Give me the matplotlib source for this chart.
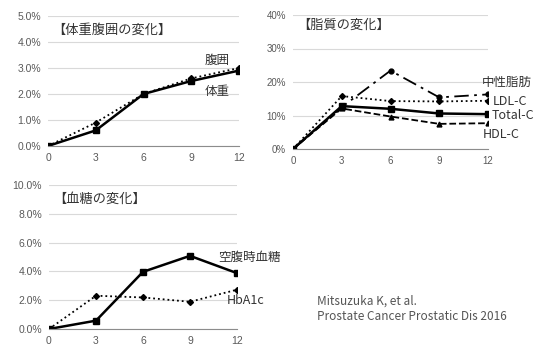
import matplotlib.pyplot as plt
from matplotlib.ticker import FuncFormatter

plt.rcParams['font.family'] = ['Noto Sans CJK JP', 'DejaVu Sans']

months = [0, 3, 6, 9, 12]

# weight / waist (% change)
weight = [0.0, 0.6, 2.0, 2.5, 2.9]
waist = [0.0, 0.9, 2.0, 2.6, 3.0]

# lipids (% change)
tg = [0.0, 12.5, 23.4, 15.4, 16.3]
ldl = [0.0, 15.8, 14.3, 14.2, 14.4]
total_c = [0.0, 12.8, 12.0, 10.6, 10.4]
hdl = [0.0, 12.1, 9.7, 7.5, 7.7]

# glucose (% change)
fpg = [0.0, 0.58, 3.97, 5.08, 3.88]
hba1c = [0.0, 2.31, 2.19, 1.89, 2.73]

W, H = 539, 344
fig = plt.figure(figsize=(W / 100, H / 100), dpi=100)

tick_col = '#595959'
txt_col = '#333333'


def make_ax(x0, x1, ytop, ybot):
    ax = fig.add_axes([x0 / W, 1 - ybot / H, (x1 - x0) / W, (ybot - ytop) / H])
    for s in ['top', 'right', 'left']:
        ax.spines[s].set_visible(False)
    ax.spines['bottom'].set_color('#8c8c8c')
    ax.spines['bottom'].set_linewidth(0.8)
    ax.grid(axis='y', color='#d9d9d9', linewidth=0.8)
    ax.set_axisbelow(True)
    ax.set_xlim(0, 12)
    ax.set_xticks(months)
    ax.tick_params(length=0, labelsize=7.5, colors=tick_col, pad=5)
    return ax


def fix_labels(ax):
    for lab in ax.get_xticklabels() + ax.get_yticklabels():
        lab.set_family(['Liberation Sans', 'DejaVu Sans'])


# 体重腹囲
ax1 = make_ax(48, 239, 16, 146)
ax1.set_ylim(0, 5)
ax1.set_yticks([0, 1, 2, 3, 4, 5])
ax1.yaxis.set_major_formatter(FuncFormatter(lambda v, p: f'{v:.1f}%'))
ax1.plot(months, waist, ':', color='black', lw=1.3, marker='D', ms=3)
ax1.plot(months, weight, '-', color='black', lw=1.8, marker='s', ms=4)
fix_labels(ax1)
fig.text(52 / W, 1 - 30 / H, '【体重腹囲の変化】', fontsize=9.5, color=txt_col, va='center', ha='left')
fig.text(205 / W, 1 - 60 / H, '腹囲', fontsize=9, color=txt_col, va='center', ha='left')
fig.text(205 / W, 1 - 91 / H, '体重', fontsize=9, color=txt_col, va='center', ha='left')

# 脂質
ax2 = make_ax(293, 488, 15, 149)
ax2.set_ylim(0, 40)
ax2.set_yticks([0, 10, 20, 30, 40])
ax2.yaxis.set_major_formatter(FuncFormatter(lambda v, p: f'{v:.0f}%'))
ax2.plot(months, tg, '-.', color='black', lw=1.3, marker='o', ms=3.5, dashes=(8, 3, 1.5, 3))
ax2.plot(months, ldl, ':', color='black', lw=1.3, marker='D', ms=3)
ax2.plot(months, hdl, '--', color='black', lw=1.3, marker='^', ms=3.5)
ax2.plot(months, total_c, '-', color='black', lw=1.8, marker='s', ms=4)
ax2.tick_params(labelsize=7)
fix_labels(ax2)
fig.text(297 / W, 1 - 25 / H, '【脂質の変化】', fontsize=9.5, color=txt_col, va='center', ha='left')
fig.text(482 / W, 1 - 82 / H, '中性脂肪', fontsize=9, color=txt_col, va='center', ha='left')
fig.text(493 / W, 1 - 101 / H, 'LDL-C', fontsize=9, color=txt_col, va='center', ha='left')
fig.text(492 / W, 1 - 116 / H, 'Total-C', fontsize=9, color=txt_col, va='center', ha='left')
fig.text(483 / W, 1 - 134 / H, 'HDL-C', fontsize=9, color=txt_col, va='center', ha='left')

# 血糖
ax3 = make_ax(49, 237, 185, 329)
ax3.set_ylim(0, 10)
ax3.set_yticks([0, 2, 4, 6, 8, 10])
ax3.yaxis.set_major_formatter(FuncFormatter(lambda v, p: f'{v:.1f}%'))
ax3.plot(months, hba1c, ':', color='black', lw=1.3, marker='D', ms=3)
ax3.plot(months, fpg, '-', color='black', lw=1.8, marker='s', ms=4)
fix_labels(ax3)
fig.text(53 / W, 1 - 199 / H, '【血糖の変化】', fontsize=9.5, color=txt_col, va='center', ha='left')
fig.text(218 / W, 1 - 257 / H, '空腹時血糖', fontsize=9, color=txt_col, va='center', ha='left')
fig.text(227 / W, 1 - 301 / H, 'HbA1c', fontsize=9, color=txt_col, va='center', ha='left')

# citation
fig.text(317 / W, 1 - 301 / H, 'Mitsuzuka K, et al.', fontsize=8.5, color='#555555', va='center', ha='left')
fig.text(317 / W, 1 - 316 / H, 'Prostate Cancer Prostatic Dis 2016', fontsize=8.5, color='#555555', va='center', ha='left')

fig.savefig('out.png', dpi=100)
